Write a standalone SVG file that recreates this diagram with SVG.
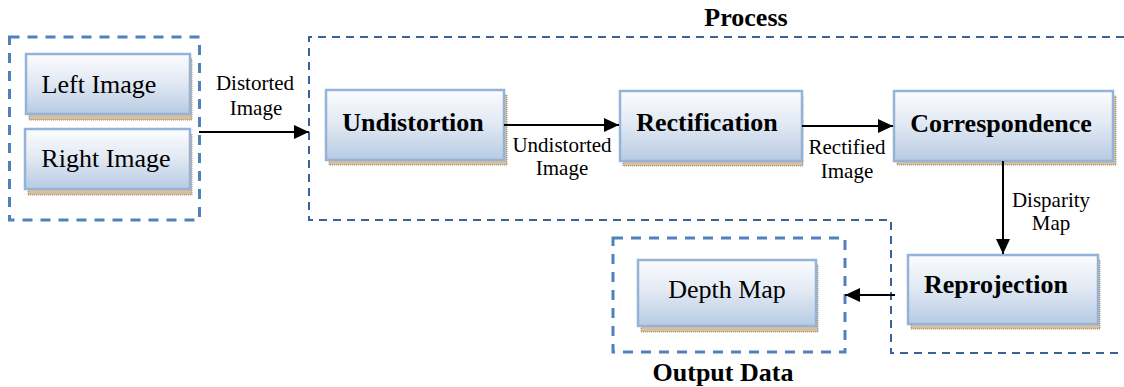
<svg xmlns="http://www.w3.org/2000/svg" width="1124" height="387" viewBox="0 0 1124 387">
<defs>
<linearGradient id="boxg" x1="0" y1="0" x2="0" y2="1">
<stop offset="0" stop-color="#fbfcfe"/>
<stop offset="0.45" stop-color="#e3eaf4"/>
<stop offset="1" stop-color="#b7cbe3"/>
</linearGradient>
<marker id="ah" viewBox="0 0 15 14" refX="15" refY="7" markerWidth="15" markerHeight="14" markerUnits="userSpaceOnUse" orient="auto">
<path d="M0,0 L15,7 L0,14 Z" fill="#000"/>
</marker>
<style>
.box{fill:url(#boxg);stroke:#95b3d7;stroke-width:2.5}
.sh{fill:#d9bf9c;stroke:#555;stroke-width:0.6;stroke-dasharray:1 1}
.t{font-family:"Liberation Serif","Times New Roman",serif;font-size:26px;fill:#000;text-anchor:middle}
.b{font-weight:bold}
.lbl{font-family:"Liberation Serif","Times New Roman",serif;font-size:21px;fill:#000;text-anchor:middle}
.grp{fill:none;stroke:#4f81bd;stroke-width:3;stroke-dasharray:10 8}
.proc{fill:none;stroke:#3a6496;stroke-width:2;stroke-dasharray:8 6}
.con{stroke:#000;stroke-width:2;fill:none;marker-end:url(#ah)}
</style>
</defs>
<rect width="1124" height="387" fill="#fff"/>

<g id="input-group">
<rect class="grp" x="9.5" y="37" width="190" height="183"/>
</g>
<g id="process-group">
<path class="proc" d="M1124,37 L309,37 L309,220 L891,220 L891,353 L1124,353"/>
<text class="t b" x="746" y="26">Process</text>
</g>
<g id="output-group">
<rect class="grp" x="613" y="238" width="232" height="114"/>
<text class="t b" x="723" y="381">Output Data</text>
</g>

<g id="left-image">
<rect class="sh" x="29" y="59" width="163" height="61"/>
<rect class="box" x="26" y="54" width="164" height="60"/>
<text class="t" x="99" y="93">Left Image</text>
</g>
<g id="right-image">
<rect class="sh" x="28" y="134" width="164" height="61"/>
<rect class="box" x="25" y="129" width="165" height="60"/>
<text class="t" x="106" y="167">Right Image</text>
</g>
<g id="undistortion">
<rect class="sh" x="329" y="95" width="178" height="70"/>
<rect class="box" x="326" y="90" width="178" height="70"/>
<text class="t b" x="413" y="131">Undistortion</text>
</g>
<g id="rectification">
<rect class="sh" x="623" y="96" width="180" height="70"/>
<rect class="box" x="620" y="91" width="182" height="70"/>
<text class="t b" x="707" y="131">Rectification</text>
</g>
<g id="correspondence">
<rect class="sh" x="897" y="96" width="219" height="69"/>
<rect class="box" x="894" y="91" width="219" height="70"/>
<text class="t b" x="1001" y="132">Correspondence</text>
</g>
<g id="reprojection">
<rect class="sh" x="911" y="260" width="189" height="69"/>
<rect class="box" x="908" y="255" width="190" height="69"/>
<text class="t b" x="996" y="293">Reprojection</text>
</g>
<g id="depth-map">
<rect class="sh" x="641" y="265" width="177" height="67"/>
<rect class="box" x="638" y="260" width="178" height="66"/>
<text class="t" x="727" y="298">Depth Map</text>
</g>

<g id="connectors">
<line class="con" x1="199" y1="132" x2="309" y2="132"/>
<line class="con" x1="504" y1="125" x2="619" y2="125"/>
<line class="con" x1="802" y1="126" x2="893" y2="126"/>
<line class="con" x1="1003" y1="161" x2="1003" y2="254"/>
<line class="con" x1="895" y1="295" x2="845" y2="295"/>
<text class="lbl" x="255" y="90">Distorted</text>
<text class="lbl" x="256" y="115">Image</text>
<text class="lbl" x="562" y="152">Undistorted</text>
<text class="lbl" x="562" y="175">Image</text>
<text class="lbl" x="847" y="154">Rectified</text>
<text class="lbl" x="847" y="178">Image</text>
<text class="lbl" x="1051" y="207">Disparity</text>
<text class="lbl" x="1051" y="230">Map</text>
</g>
</svg>
